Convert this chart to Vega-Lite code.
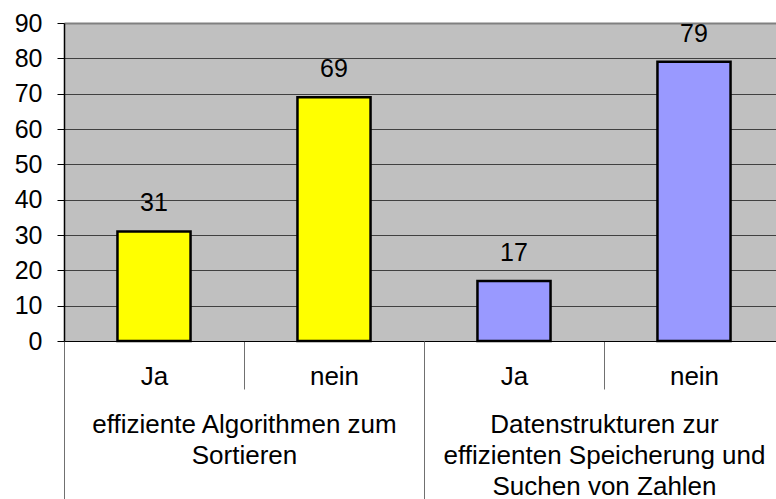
{
  "$schema": "https://vega.github.io/schema/vega-lite/v6.json",
  "width": 712,
  "height": 318,
  "autosize": "none",
  "padding": {"left": 64, "top": 23, "right": 0, "bottom": 158},
  "background": "white",
  "config": {
    "view": {"fill": "#C0C0C0", "stroke": null},
    "font": "Liberation Sans",
    "axis": {"labelFont": "Liberation Sans", "labelColor": "black"}
  },
  "data": {
    "values": [
      {"group": "effiziente Algorithmen zum|Sortieren", "key": "A|Ja", "value": 31},
      {"group": "effiziente Algorithmen zum|Sortieren", "key": "A|nein", "value": 69},
      {"group": "Datenstrukturen zur|effizienten Speicherung und|Suchen von Zahlen", "key": "B|Ja", "value": 17},
      {"group": "Datenstrukturen zur|effizienten Speicherung und|Suchen von Zahlen", "key": "B|nein", "value": 79}
    ]
  },
  "layer": [
    {
      "encoding": {
        "x": {
          "field": "key", "type": "nominal", "sort": null,
          "scale": {"range": [0, 720], "paddingInner": 0, "paddingOuter": 0},
          "axis": {
            "orient": "bottom", "title": null,
            "labelExpr": "split(datum.label, '|')[1]",
            "labelAngle": 0, "labelFontSize": 26, "labelBaseline": "top",
            "labelPadding": -26, "tickSize": 48, "tickBand": "extent",
            "tickColor": "#707070", "tickWidth": 1,
            "domainColor": "black", "domainWidth": 1, "labelLimit": 300
          }
        },
        "y": {
          "field": "value", "type": "quantitative",
          "scale": {"domain": [0, 90], "nice": false},
          "axis": {
            "title": null, "values": [0, 10, 20, 30, 40, 50, 60, 70, 80, 90],
            "labelFontSize": 25, "labelPadding": 15, "tickSize": 7,
            "tickColor": "black", "domainColor": "black", "domainWidth": 1.5,
            "gridColor": {"condition": {"test": "datum.value === 90", "value": "#808080"}, "value": "#404040"},
            "gridWidth": {"condition": {"test": "datum.value === 90", "value": 2}, "value": 1}
          }
        }
      },
      "layer": [
        {
          "mark": {"type": "bar", "stroke": "black", "strokeWidth": 2.5, "width": {"band": 0.406}},
          "encoding": {
            "color": {
              "field": "group", "type": "nominal", "sort": null, "legend": null,
              "scale": {"range": ["#FFFF00", "#9999FF"]}
            }
          }
        },
        {
          "mark": {"type": "text", "dy": -28, "fontSize": 25, "baseline": "middle", "color": "black"},
          "encoding": {"text": {"field": "value", "type": "quantitative"}}
        }
      ]
    },
    {
      "mark": {"type": "bar", "opacity": 0},
      "encoding": {
        "x": {
          "field": "group", "type": "nominal", "sort": null,
          "scale": {"range": [0, 720], "paddingInner": 0, "paddingOuter": 0},
          "axis": {
            "orient": "bottom", "title": null, "domain": false,
            "labelExpr": "split(datum.label, '|')",
            "labelAngle": 0, "labelFontSize": 26, "labelBaseline": "top",
            "labelLineHeight": 31,
            "labelPadding": -88, "tickSize": 158, "tickBand": "extent",
            "tickColor": "#707070", "tickWidth": 1, "labelLimit": 400
          }
        }
      }
    }
  ],
  "resolve": {"scale": {"x": "independent"}, "axis": {"x": "independent"}}
}
